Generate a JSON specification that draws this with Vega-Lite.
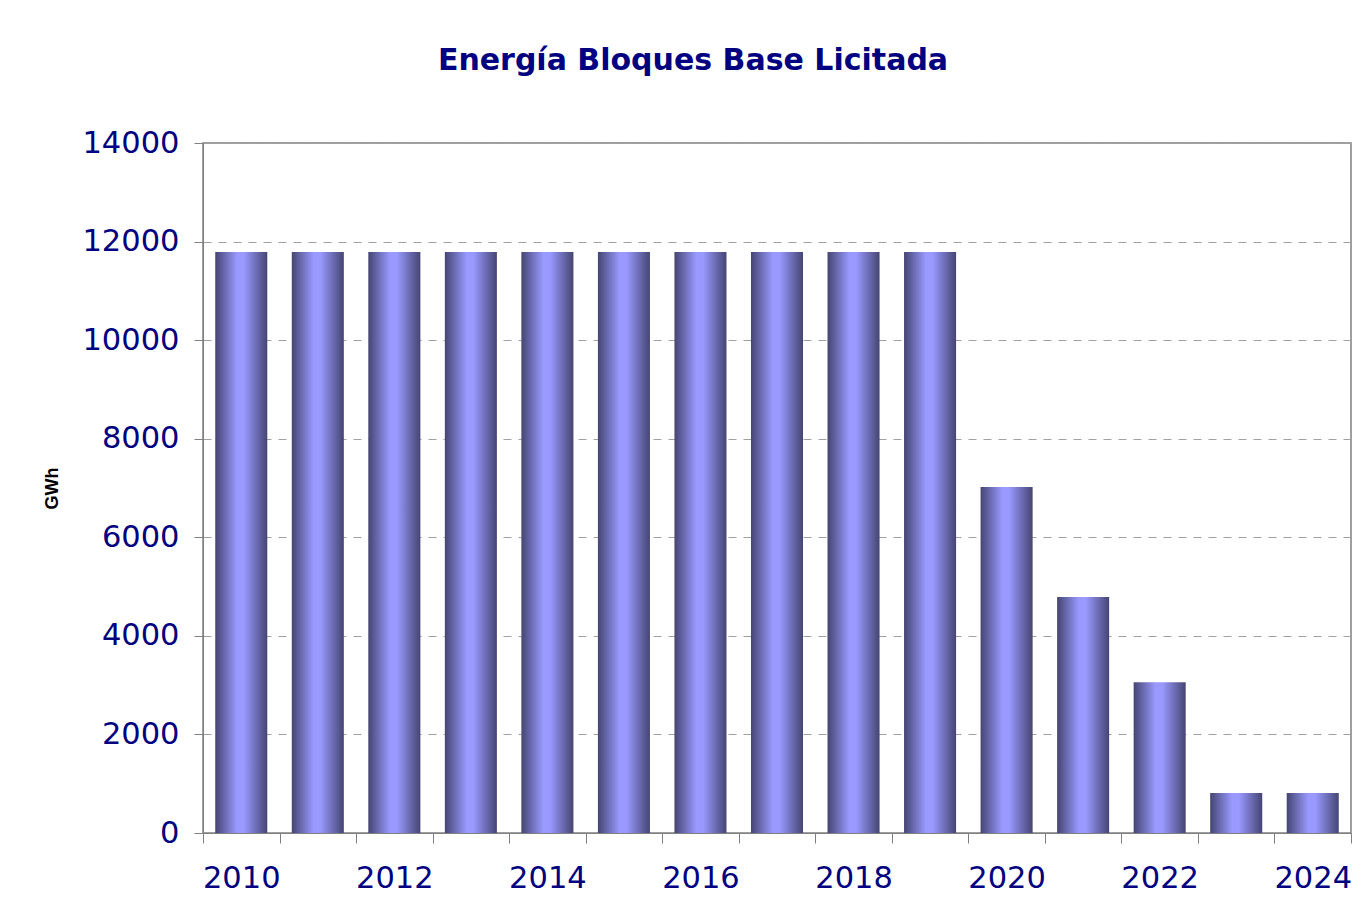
{
  "$schema": "https://vega.github.io/schema/vega-lite/v6.json",
  "width": 1148,
  "height": 690,
  "autosize": {"type": "none"},
  "padding": {"left": 203, "top": 143, "right": 11, "bottom": 89},
  "background": "white",
  "title": {
    "text": "Energía Bloques Base Licitada",
    "font": "DejaVu Sans",
    "fontSize": 30,
    "fontWeight": "bold",
    "color": "#000080",
    "anchor": "middle",
    "frame": "group",
    "dx": -84,
    "offset": 52
  },
  "config": {
    "view": {"stroke": "#808080", "strokeWidth": 1.5},
    "axis": {
      "labelFont": "DejaVu Sans",
      "labelFontSize": 30.5,
      "labelColor": "#000080",
      "domainColor": "#808080",
      "tickColor": "#808080",
      "tickSize": 10
    }
  },
  "data": {
    "values": [
      {"year": "2010", "gwh": 11790},
      {"year": "2011", "gwh": 11790},
      {"year": "2012", "gwh": 11790},
      {"year": "2013", "gwh": 11790},
      {"year": "2014", "gwh": 11790},
      {"year": "2015", "gwh": 11790},
      {"year": "2016", "gwh": 11790},
      {"year": "2017", "gwh": 11790},
      {"year": "2018", "gwh": 11790},
      {"year": "2019", "gwh": 11790},
      {"year": "2020", "gwh": 7020},
      {"year": "2021", "gwh": 4790},
      {"year": "2022", "gwh": 3060},
      {"year": "2023", "gwh": 810},
      {"year": "2024", "gwh": 810}
    ]
  },
  "mark": {
    "type": "bar",
    "width": {"band": 0.68},
    "color": {
      "gradient": "linear",
      "x1": 0, "y1": 0, "x2": 1, "y2": 0,
      "stops": [
        {"offset": 0, "color": "#454573"},
        {"offset": 0.42, "color": "#9999ff"},
        {"offset": 0.55, "color": "#9999ff"},
        {"offset": 1, "color": "#454573"}
      ]
    }
  },
  "encoding": {
    "x": {
      "field": "year",
      "type": "ordinal",
      "sort": null,
      "scale": {"paddingInner": 0, "paddingOuter": 0},
      "axis": {
        "title": null,
        "labelAngle": 0,
        "tickBand": "extent",
        "labelPadding": 20,
        "labelExpr": "toNumber(datum.value) % 2 == 0 ? datum.label : ''",
        "grid": false
      }
    },
    "y": {
      "field": "gwh",
      "type": "quantitative",
      "scale": {"domain": [0, 14000], "nice": false},
      "axis": {
        "values": [0, 2000, 4000, 6000, 8000, 10000, 12000, 14000],
        "format": "d",
        "title": "GWh",
        "titleFont": "Liberation Sans",
        "titleFontSize": 18,
        "titleFontWeight": "bold",
        "titleColor": "black",
        "titlePadding": 20,
        "labelPadding": 15,
        "tickSize": 9,
        "grid": true,
        "gridColor": "#a0a0a0",
        "gridDash": [8, 7],
        "gridWidth": 1
      }
    }
  }
}
